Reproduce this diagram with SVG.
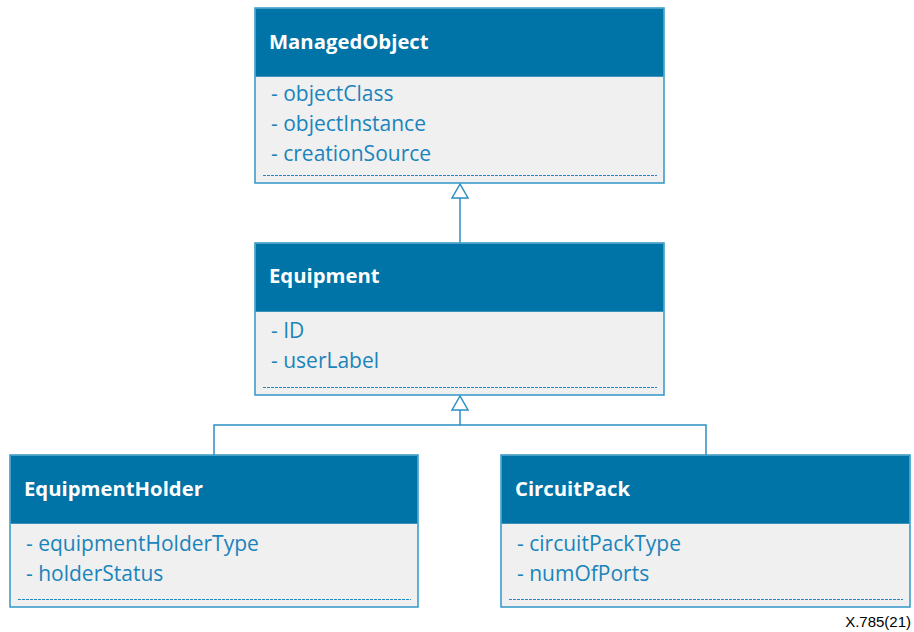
<svg xmlns="http://www.w3.org/2000/svg" width="914" height="632" viewBox="0 0 914 632">
<defs>
<style>
.box{fill:#f0f0f0;stroke:#3196c8;stroke-width:1.5}
.hdr{fill:#0073a7}
.title{font-family:"Open Sans","Liberation Sans",sans-serif;font-weight:bold;font-size:20.3px;fill:#ffffff}
.attr{font-family:"Open Sans","Liberation Sans",sans-serif;font-size:21px;fill:#1a84bb}
.dash{stroke:#1f88c0;stroke-width:1;stroke-dasharray:3,1;fill:none}
.conn{stroke:#2a8fc4;stroke-width:1.5;fill:none}
.tri{fill:#ffffff;stroke:#2a8fc4;stroke-width:1.5}
.note{font-family:"Liberation Sans",Arial,sans-serif;font-size:15px;fill:#000000}
</style>
</defs>
<rect width="914" height="632" fill="#ffffff"/>
<g id="connectors">
<line class="conn" x1="460" y1="198" x2="460" y2="243"/>
<polygon class="tri" points="460,184 452,198 468,198"/>
<line class="conn" x1="460" y1="410" x2="460" y2="425"/>
<polyline class="conn" points="214,455 214,425 706,425 706,455"/>
<polygon class="tri" points="460,396 452,410 468,410"/>
</g>
<g id="ManagedObject">
<rect class="box" x="255" y="8" width="409" height="175"/>
<rect class="hdr" x="255.75" y="8.75" width="407.5" height="68"/>
<text class="title" x="269" y="49">ManagedObject</text>
<text class="attr" x="271" y="101">- objectClass</text>
<text class="attr" x="271" y="131">- objectInstance</text>
<text class="attr" x="271" y="161">- creationSource</text>
<line class="dash" x1="263" y1="175.5" x2="657" y2="175.5"/>
</g>
<g id="Equipment">
<rect class="box" x="255" y="243" width="409" height="152"/>
<rect class="hdr" x="255.75" y="243.75" width="407.5" height="68"/>
<text class="title" x="269" y="283">Equipment</text>
<text class="attr" x="271" y="338">- ID</text>
<text class="attr" x="271" y="368">- userLabel</text>
<line class="dash" x1="263" y1="387.5" x2="657" y2="387.5"/>
</g>
<g id="EquipmentHolder">
<rect class="box" x="10" y="455" width="408" height="152"/>
<rect class="hdr" x="10.75" y="455.75" width="406.5" height="68"/>
<text class="title" x="24" y="496">EquipmentHolder</text>
<text class="attr" x="26" y="551">- equipmentHolderType</text>
<text class="attr" x="26" y="581">- holderStatus</text>
<line class="dash" x1="18" y1="599.5" x2="411" y2="599.5"/>
</g>
<g id="CircuitPack">
<rect class="box" x="501" y="455" width="409" height="152"/>
<rect class="hdr" x="501.75" y="455.75" width="407.5" height="68"/>
<text class="title" x="515" y="496">CircuitPack</text>
<text class="attr" x="517" y="551">- circuitPackType</text>
<text class="attr" x="517" y="581">- numOfPorts</text>
<line class="dash" x1="509" y1="599.5" x2="903" y2="599.5"/>
</g>
<text class="note" x="911" y="627" text-anchor="end">X.785(21)</text>
</svg>
